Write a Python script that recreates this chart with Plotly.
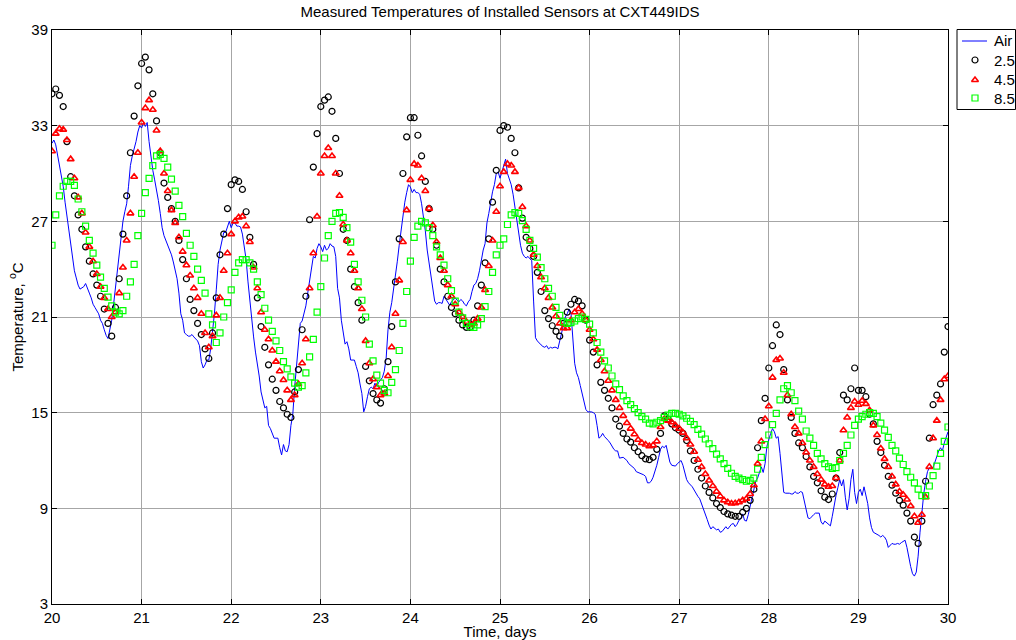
import numpy as np
import plotly.graph_objects as go

# Sensor log: days 20-30, sensors sampled hourly, air sampled every 30 min
START_DAY = 20
SENSOR_SAMPLES_PER_DAY = 24
AIR_SAMPLES_PER_DAY = 48

series_names = ["Air", "2.5", "4.5", "8.5"]

air_temp = [
    31.9, 32.1, 31.8, 31.2, 30.6, 29.9, 29.2, 28.2, 27.4, 26.4, 25.5, 24.7, 23.9, 23.45, 23.0, 22.75,
    22.8, 22.9, 23.1, 22.85, 22.5, 22.2, 21.8, 21.6, 21.4, 21.2, 20.8, 20.6, 20.2, 19.85, 19.65, 20.2,
    20.8, 21.8, 22.9, 23.8, 25.0, 26.3, 27.0, 27.6, 28.1, 29.2, 30.5, 31.1, 31.5, 32.0, 32.6, 33.0,
    32.85, 33.2, 32.95, 33.2, 32.0, 31.0, 30.2, 29.6, 29.0, 28.3, 27.5, 26.6, 26.1, 25.8, 25.6, 25.25,
    24.9, 24.45, 23.9, 23.4, 22.5, 21.2, 20.8, 20.0, 19.9, 19.8, 19.8, 19.9, 19.75, 19.65, 19.5, 19.2,
    18.2, 17.8, 18.0, 18.3, 18.3, 19.0, 20.0, 21.2, 22.7, 24.3, 25.2, 25.7, 26.3, 26.3, 26.7, 27.0,
    26.6, 26.9, 26.9, 26.7, 26.7, 26.65, 26.2, 25.5, 24.6, 23.2, 22.0, 20.7, 19.75, 18.8, 18.1, 17.3,
    16.3, 15.7, 15.3, 15.4, 14.2, 14.0, 13.7, 13.4, 13.4, 13.4, 12.8, 12.35, 13.0, 12.6, 12.55, 13.0,
    14.2, 14.9, 16.6, 17.8, 19.1, 20.6, 20.75, 21.2, 21.7, 22.5, 23.3, 24.2, 24.8, 24.7, 25.3, 25.6,
    25.4, 25.1, 25.5, 25.2, 25.3, 25.6, 25.45, 25.4, 24.8, 22.8, 22.2, 20.8, 20.0, 19.3, 19.45, 19.0,
    18.3, 18.3, 18.3, 17.9, 17.5, 16.8, 16.2, 15.05, 15.4, 16.0, 16.5, 16.6, 16.5, 16.85, 16.65, 16.9,
    17.05, 17.2, 17.6, 18.4, 20.2, 21.3, 21.9, 22.7, 23.5, 24.5, 25.5, 26.4, 27.6, 28.2, 28.8, 29.3,
    29.15, 28.8, 29.0, 28.8, 28.8, 28.7, 28.1, 27.3, 26.4, 25.2, 24.4, 23.6, 22.7, 22.0, 21.8, 21.9,
    21.9, 21.85, 22.3, 22.1, 21.9, 21.75, 21.95, 22.1, 22.2, 22.05, 21.95, 22.1, 22.0, 21.8, 21.7, 21.95,
    22.1, 22.6, 23.0, 23.1, 23.4, 23.9, 24.6, 25.2, 25.6, 26.9, 27.5, 28.3, 28.85, 29.3, 30.0, 30.1,
    29.7, 30.1, 30.5, 30.9, 30.0, 29.6, 29.3, 28.7, 27.9, 27.0, 26.2, 25.5, 25.0, 24.8, 24.7, 24.8,
    24.65, 24.55, 22.0, 19.7, 19.5, 19.35, 19.25, 19.15, 19.1, 19.2, 19.0, 19.1, 19.05, 19.1, 19.1, 19.0,
    19.5, 20.1, 20.6, 21.0, 21.2, 21.5, 21.3, 19.9, 18.1, 17.5, 17.2, 16.7, 16.2, 15.6, 15.2, 15.05,
    15.05, 15.05, 15.0, 14.9, 14.2, 13.4, 13.5, 13.7, 13.5, 13.4, 13.25, 13.1, 12.9, 12.7, 12.6, 12.6,
    12.15, 12.2, 12.2, 12.1, 12.0, 11.8, 11.7, 11.55, 11.5, 11.3, 11.25, 11.2, 11.2, 11.1, 11.0, 10.6,
    10.6, 10.7, 10.95, 11.3, 11.7, 12.2, 12.7, 12.9, 12.8, 12.95, 12.5, 11.9, 11.7, 11.65, 11.65, 11.8,
    11.9, 12.0, 11.7, 11.3, 10.8, 10.6, 10.5, 10.35, 10.15, 9.9, 9.75, 9.6, 9.3, 9.0, 8.6, 8.3,
    7.95, 7.7, 7.85, 7.75, 7.65, 7.7, 7.5, 7.55, 7.7, 7.85, 7.7, 7.85, 8.0, 8.05, 7.85, 8.0,
    8.25, 8.35, 8.65, 8.25, 8.2, 8.6, 9.1, 9.6, 10.1, 10.7, 10.9, 11.3, 11.6, 11.25, 11.8, 12.9,
    13.4, 13.7, 14.0, 13.8, 13.4, 13.5, 12.45, 11.2, 10.0, 9.95, 9.95, 9.95, 9.9, 9.9, 10.05, 9.95,
    9.95, 10.05, 10.0, 9.4, 8.8, 8.4, 8.35, 8.5, 8.6, 8.7, 8.7, 8.7, 8.15, 8.0, 8.2, 8.1,
    8.0, 7.9, 8.5, 9.2, 9.8, 10.3, 10.8, 10.4, 10.8, 9.7, 8.9, 9.6, 10.8, 11.45, 10.0, 9.3,
    10.0, 10.2, 9.8, 10.35, 9.9, 9.3, 8.4, 7.8, 7.5, 7.45, 7.35, 7.3, 7.2, 7.3, 7.2, 7.0,
    6.55, 6.7, 6.8, 6.75, 6.75, 6.8, 6.75, 6.85, 6.95, 7.0, 6.55, 5.8, 5.35, 4.9, 4.75, 5.0,
    6.0, 7.5, 8.9, 9.9, 10.7, 11.3, 11.55, 11.6, 11.55, 11.95, 12.3, 12.6, 12.8, 12.6, 13.1, 13.5,
    13.8,
]

depth_2_5 = [
    35.0, 35.3, 34.9, 34.2, 32.0, 29.8, 28.6, 27.4, 26.5, 25.4, 24.5, 23.7, 23.0, 22.3, 21.5, 20.6, 19.8, 21.6, 23.4, 26.2, 28.6, 31.3, 33.6, 35.5,
    36.9, 37.3, 36.5, 35.0, 33.3, 31.3, 29.4, 28.5, 27.8, 27.0, 25.8, 24.6, 23.4, 22.1, 21.4, 20.6, 19.9, 19.0, 18.4, 20.0, 22.2, 24.9, 26.2, 27.8,
    29.3, 29.6, 29.5, 29.0, 27.6, 26.0, 24.3, 22.2, 20.4, 19.1, 18.0, 17.1, 16.4, 15.7, 15.3, 14.9, 14.7, 16.3, 17.7, 20.2, 22.3, 27.1, 30.4, 32.5,
    34.2, 34.6, 34.8, 33.9, 32.2, 30.0, 26.5, 25.8, 24.0, 22.9, 21.9, 20.8, 17.9, 17.0, 16.2, 15.8, 15.6, 16.5, 18.2, 20.4, 23.2, 25.9, 30.0, 32.3,
    33.5, 33.5, 32.4, 31.1, 29.5, 27.8, 26.5, 25.5, 24.0, 23.2, 22.3, 21.6, 21.2, 20.8, 20.5, 20.35, 20.35, 20.8, 21.7, 23.0, 24.4, 25.9, 28.2, 30.2,
    32.7, 33.0, 32.9, 32.2, 31.3, 29.1, 27.2, 26.0, 25.3, 24.8, 23.8, 22.6, 21.4, 20.9, 20.45, 20.1, 19.8, 20.6, 21.3, 21.8, 22.1, 22.0, 21.7, 20.8,
    19.55, 18.8, 18.0, 16.9, 16.4, 15.9, 15.3, 14.6, 14.15, 13.7, 13.35, 13.15, 12.8, 12.55, 12.3, 12.1, 12.05, 12.2, 12.7, 13.7, 14.8, 14.6, 14.3, 14.05,
    13.9, 13.7, 13.25, 12.6, 12.0, 11.45, 10.9, 10.4, 10.0, 9.65, 9.3, 9.05, 8.8, 8.65, 8.57, 8.5, 8.5, 8.75, 9.0, 9.5, 10.2, 12.8, 14.5, 15.9,
    17.8, 19.2, 20.5, 19.9, 17.7, 15.8, 14.7, 13.7, 13.1, 12.8, 12.25, 11.6, 11.0, 10.6, 10.1, 9.7, 9.55, 9.9, 10.9, 12.5, 16.1, 15.8, 16.5, 17.8,
    16.4, 16.4, 16.0, 14.9, 14.3, 13.2, 12.5, 11.7, 11.0, 10.45, 9.95, 9.5, 9.2, 8.7, 8.2, 7.2, 6.8, 8.2, 10.7, 13.4, 15.5, 16.1, 16.8, 18.8,
    20.4,
]

depth_4_5 = [
    31.4, 32.5, 32.8, 32.75, 32.1, 30.9, 29.7, 28.5, 27.5, 26.3, 25.4, 24.5, 23.7, 22.9, 22.2, 21.5, 21.0, 21.3, 22.5, 24.1, 25.8, 27.5, 29.8, 31.3,
    33.2, 34.1, 34.6, 34.0, 32.7, 31.4, 30.0, 28.9, 27.7, 26.9, 26.0, 25.1, 24.25, 23.6, 22.8, 22.2, 21.2, 20.0, 19.1, 19.8, 21.1, 22.2, 23.9, 25.0,
    26.2, 27.0, 27.25, 27.3, 26.7, 25.7, 24.1, 22.8, 21.3, 20.2, 19.6, 18.9, 18.2, 17.6, 17.05, 16.4, 15.8, 16.1, 16.8, 18.1, 19.6, 22.8, 25.0, 27.3,
    30.0, 31.1, 31.6, 31.1, 30.0, 28.6, 26.8, 25.8, 25.0, 23.9, 22.8, 21.5, 19.5, 18.1, 17.1, 16.6, 16.1, 16.2, 17.3, 19.1, 21.2, 23.3, 25.7, 27.7,
    29.6, 30.6, 30.5, 29.7, 28.9, 27.8, 26.75, 25.7, 24.7, 23.9, 23.0, 22.3, 21.8, 21.3, 21.0, 20.7, 20.5, 20.6, 20.9, 21.6, 22.7, 24.2, 25.8, 27.6,
    29.2, 30.1, 30.6, 30.5, 30.1, 29.1, 27.9, 26.7, 25.8, 24.9, 24.2, 23.5, 22.8, 22.2, 21.6, 21.05, 20.6, 20.3, 20.3, 20.8, 21.3, 21.5, 21.2, 20.8,
    20.2, 19.6, 18.95, 18.3, 17.6, 17.0, 16.4, 15.8, 15.3, 14.8, 14.35, 14.0, 13.65, 13.3, 13.1, 13.0, 12.9, 12.95, 13.2, 14.1, 14.6, 14.5, 14.4, 14.2,
    14.0, 13.75, 13.4, 13.0, 12.55, 12.05, 11.6, 11.15, 10.75, 10.4, 10.05, 9.75, 9.5, 9.38, 9.3, 9.32, 9.38, 9.5, 9.6, 9.9, 10.45, 11.8, 13.2, 14.6,
    15.4, 17.2, 18.3, 18.4, 17.5, 16.1, 14.9, 14.1, 13.7, 13.1, 12.5, 12.0, 11.6, 11.15, 10.8, 10.5, 10.35, 10.4, 10.9, 12.0, 13.9, 14.7, 15.3, 15.7,
    15.5, 15.75, 15.55, 15.15, 14.2, 13.6, 12.75, 12.1, 11.6, 11.0, 10.5, 10.05, 9.85, 9.55, 9.15, 8.5, 8.1, 8.6, 9.7, 11.6, 13.4, 14.5, 15.8, 17.1,
    17.3,
]

depth_8_5 = [
    25.5, 27.4, 28.6, 29.2, 29.5, 29.5, 29.25, 28.4, 27.6, 26.7, 25.8, 25.0, 24.25, 23.5, 22.8, 22.25, 21.7, 21.3, 21.2, 21.4, 22.3, 23.2, 24.3, 26.1,
    27.5, 28.8, 29.7, 30.5, 31.1, 31.2, 30.95, 30.4, 29.65, 28.9, 28.0, 27.3, 26.25, 25.5, 24.8, 24.0, 23.3, 22.5, 21.2, 20.5, 19.4, 20.0, 21.0, 21.9,
    22.7, 23.8, 24.4, 24.6, 24.6, 24.4, 24.0, 23.2, 22.4, 21.55, 20.8, 20.1, 19.5, 18.9, 18.2, 17.75, 17.25, 16.85, 16.6, 16.7, 17.5, 18.5, 19.6, 21.3,
    22.9, 24.7, 26.1, 27.0, 27.5, 27.55, 27.25, 26.6, 25.7, 24.3, 23.2, 22.05, 21.0, 19.3, 18.25, 17.35, 16.85, 16.4, 16.25, 16.9, 17.7, 18.9, 20.6, 22.6,
    24.5, 26.0, 26.7, 27.0, 26.9, 26.6, 26.1, 25.4, 24.9, 24.25, 23.4, 22.65, 22.0, 21.3, 20.95, 20.6, 20.4, 20.35, 20.5, 20.9, 21.65, 22.6, 23.8, 24.9,
    25.5, 25.9, 26.8, 27.4, 27.55, 27.5, 27.05, 26.5, 25.8, 25.3, 24.75, 24.1, 23.4, 22.8, 22.3, 21.6, 21.1, 20.7, 20.6, 20.65, 20.75, 20.9, 21.0, 20.85,
    20.55, 20.0, 19.4, 18.8, 18.25, 17.8, 17.3, 16.8, 16.45, 16.05, 15.75, 15.5, 15.25, 15.0, 14.75, 14.6, 14.35, 14.3, 14.4, 14.5, 14.7, 14.85, 14.95, 14.95,
    14.9, 14.8, 14.65, 14.45, 14.25, 13.95, 13.65, 13.35, 13.05, 12.75, 12.4, 12.1, 11.8, 11.5, 11.2, 11.0, 10.9, 10.8, 10.7, 10.75, 10.9, 11.45, 12.2, 13.0,
    13.6, 14.25, 14.95, 15.8, 16.5, 16.7, 16.25, 15.75, 15.1, 14.6, 13.85, 13.4, 12.95, 12.45, 12.1, 11.8, 11.6, 11.5, 11.55, 12.0, 12.45, 12.95, 13.6, 14.2,
    14.6, 14.75, 14.9, 15.0, 14.95, 14.75, 14.35, 13.9, 13.45, 12.95, 12.6, 12.15, 11.75, 11.3, 10.95, 10.6, 10.2, 9.8, 9.8, 10.4, 11.05, 11.65, 12.45, 13.2,
    14.1,
]

x_ticks = list(range(20, 31))
y_ticks = [3, 9, 15, 21, 27, 33, 39]

FONT = "Liberation Sans, Arial, Helvetica, sans-serif"
FONT_SIZE = 15

# Page geometry (pixels): the plot box spans x 52..948, y 30..604;
# the paper extends to the right page edge so the legend box can sit there.
FIG_W, FIG_H = 1016, 640
PLOT_L, PLOT_R, PLOT_T, PLOT_B = 52, 948, 30, 604
PAPER_W = FIG_W - PLOT_L
PAPER_H = PLOT_B - PLOT_T


def px_x(px):
    return (px - PLOT_L) / PAPER_W


def px_y(py):
    return (PLOT_B - py) / PAPER_H


def day_axis(values, per_day):
    return START_DAY + np.arange(len(values)) / per_day


line_style = dict(color="#0000ff", width=1)
marker_styles = [
    dict(symbol="circle-open", size=6, color="#000000", line=dict(width=1.2)),
    dict(symbol="triangle-up-open", size=6, color="#ff0000", line=dict(width=1.6)),
    dict(symbol="square-open", size=6, color="#00ff00", line=dict(width=1.2)),
]

fig = go.Figure()

fig.add_trace(go.Scatter(
    x=day_axis(air_temp, AIR_SAMPLES_PER_DAY), y=air_temp, name=series_names[0],
    mode="lines", line=line_style, showlegend=False,
))
for name, values, style in zip(series_names[1:], [depth_2_5, depth_4_5, depth_8_5], marker_styles):
    fig.add_trace(go.Scatter(
        x=day_axis(values, SENSOR_SAMPLES_PER_DAY), y=values, name=name,
        mode="markers", marker=style, showlegend=False,
    ))

# Legend box drawn on its own pixel-scaled axes to the right of the plot
LEG_L, LEG_R, LEG_T, LEG_B = 957, 1015.5, 29.5, 109.5
legend_rows_y = [41, 60, 80, 98]
sample_x0, sample_x1, sample_xc, label_x = 962, 987, 975, 992

fig.add_trace(go.Scatter(
    x=[sample_x0, sample_x1], y=[legend_rows_y[0]] * 2, mode="lines", line=line_style,
    xaxis="x2", yaxis="y2", showlegend=False, hoverinfo="skip",
))
for row_y, style in zip(legend_rows_y[1:], marker_styles):
    fig.add_trace(go.Scatter(
        x=[sample_xc], y=[row_y], mode="markers", marker=style,
        xaxis="x2", yaxis="y2", showlegend=False, hoverinfo="skip",
    ))

shapes = [dict(
    type="rect", xref="paper", yref="paper",
    x0=px_x(LEG_L), x1=px_x(LEG_R), y0=px_y(LEG_B), y1=px_y(LEG_T),
    line=dict(color="#000000", width=1), fillcolor="rgba(0,0,0,0)", layer="below",
)]
annotations = [
    dict(text=name, x=px_x(label_x), y=px_y(row_y), xref="paper", yref="paper",
         xanchor="left", yanchor="middle", showarrow=False,
         font=dict(family=FONT, size=FONT_SIZE, color="#000000"))
    for name, row_y in zip(series_names, legend_rows_y)
]

axis_common = dict(
    showline=True, linecolor="#000000", linewidth=1, mirror="ticks",
    ticks="inside", ticklen=5, tickcolor="#000000", tickwidth=1,
    showgrid=True, gridcolor="#a6a6a6", gridwidth=1,
    zeroline=False, tickfont=dict(family=FONT, size=FONT_SIZE, color="#000000"),
)

fig.update_layout(
    width=FIG_W, height=FIG_H,
    margin=dict(l=PLOT_L, r=0, t=PLOT_T, b=FIG_H - PLOT_B, autoexpand=False),
    paper_bgcolor="#ffffff", plot_bgcolor="#ffffff",
    font=dict(family=FONT, size=FONT_SIZE, color="#000000"),
    title=dict(
        text="Measured Temperatures of Installed Sensors at CXT449IDS",
        font=dict(family=FONT, size=FONT_SIZE, color="#000000"),
        x=px_x((PLOT_L + PLOT_R) / 2), xref="paper", xanchor="center",
        y=1 - 12 / FIG_H, yref="container", yanchor="middle",
    ),
    xaxis=dict(
        domain=[0, px_x(PLOT_R)],
        range=[20, 30], tickvals=x_ticks,
        title=dict(text="Time, days", font=dict(family=FONT, size=FONT_SIZE), standoff=1),
        **axis_common,
    ),
    yaxis=dict(
        range=[3, 39], tickvals=y_ticks,
        title=dict(text="Temperature, <sup>o</sup>C", font=dict(family=FONT, size=FONT_SIZE), standoff=4),
        **axis_common,
    ),
    xaxis2=dict(domain=[px_x(LEG_L), 1], range=[LEG_L, FIG_W], visible=False, anchor="y2", fixedrange=True),
    yaxis2=dict(domain=[0, 1], range=[PLOT_B, PLOT_T], visible=False, anchor="x2", fixedrange=True),
    shapes=shapes,
    annotations=annotations,
    showlegend=False,
)

fig.write_html("out.html")
